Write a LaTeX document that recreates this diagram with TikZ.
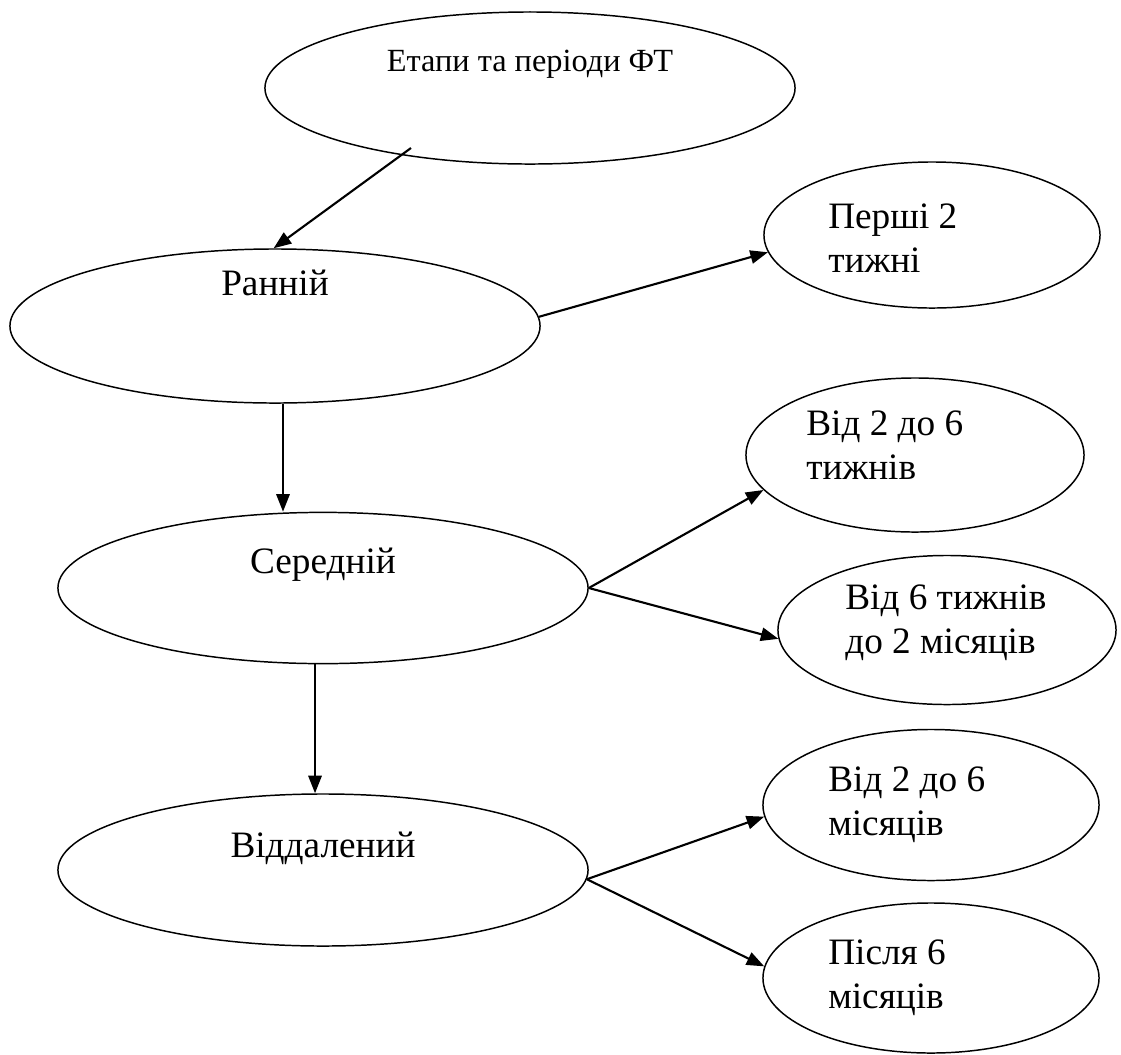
\documentclass[tikz,border=0pt]{standalone}
\usepackage{fontspec}
\setmainfont{Liberation Serif}
\usetikzlibrary{shapes.geometric,arrows.meta,calc}
\tikzset{
  ell/.style={draw, ellipse, line width=1.05pt, inner sep=0pt},
  arr/.style={-{Triangle[length=12.5pt,width=9.5pt]}, line width=1.5pt},
  txt/.style={font=\fontsize{26.5}{31.5}\selectfont, inner sep=0pt, align=left},
  smalltxt/.style={font=\fontsize{23}{27}\selectfont, inner sep=0pt},
}
\begin{document}
\begin{tikzpicture}[x=0.025cm, y=-0.025cm]
\useasboundingbox (0,0) rectangle (1121,1055);
% ellipses
\node[ell, minimum width=13.25cm, minimum height=3.8cm] (top) at (530,88) {};
\node[ell, minimum width=13.25cm, minimum height=3.85cm] (ran) at (275,326) {};
\node[ell, minimum width=8.4cm, minimum height=3.65cm] (p2) at (932,235) {};
\node[ell, minimum width=13.25cm, minimum height=3.78cm] (sered) at (323,588) {};
\node[ell, minimum width=8.45cm, minimum height=3.85cm] (t2) at (915,455) {};
\node[ell, minimum width=8.45cm, minimum height=3.725cm] (t6) at (947,630) {};
\node[ell, minimum width=13.25cm, minimum height=3.8cm] (vid) at (323,870) {};
\node[ell, minimum width=8.4cm, minimum height=3.775cm] (m2) at (931,805) {};
\node[ell, minimum width=8.4cm, minimum height=3.75cm] (m6) at (931,978) {};
% texts
\node[smalltxt] (toptxt) at (530,64) {Етапи та періоди ФТ};
\node[txt] (rantxt) at (275,283) {Ранній};
\node[txt, anchor=west] (p2txt) at (828,238) {Перші 2\\тижні};
\node[txt] (seredtxt) at (323,565) {Середній};
\node[txt, anchor=west] (t2txt) at (806,445) {Від 2 до 6\\тижнів};
\node[txt, anchor=west] (t6txt) at (845,623) {Від 6 тижнів\\до 2 місяців};
\node[txt] (vidtxt) at (323,848) {Віддалений};
\node[txt, anchor=west] (m2txt) at (828,805) {Від 2 до 6\\місяців};
\node[txt, anchor=west] (m6txt) at (828,978) {Після 6\\місяців};
% connectors
\coordinate (topstart) at (411,148);
\draw[arr] (topstart) -- (ran.91);
\draw[arr] (ran.2) -- (p2.186);
\draw[arr] ($(ran.south)+(8,0)$) coordinate (s1) -- (s1 |- sered.north);
\draw[arr] (sered.east) -- (t2.193);
\draw[arr] (sered.east) -- (t6.183);
\draw[arr] ($(sered.south)+(-8,0)$) coordinate (s2) -- (s2 |- vid.north);
\draw[arr] (vid.-2) -- (m2.184);
\draw[arr] (vid.-2) -- (m6.176);
\end{tikzpicture}
\end{document}
